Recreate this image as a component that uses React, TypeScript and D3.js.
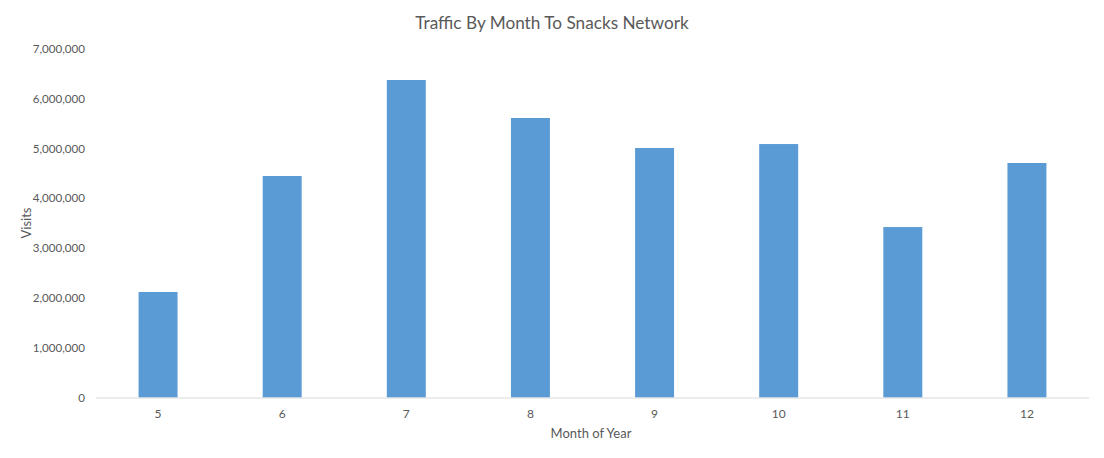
import React from "react";
import * as d3 from "d3";

const months = ["5", "6", "7", "8", "9", "10", "11", "12"];
const visits = [2119000, 4449000, 6377000, 5614000, 5011000, 5091000, 3424000, 4710000];
const yTicks = [0, 1000000, 2000000, 3000000, 4000000, 5000000, 6000000, 7000000];

const W = 1104;
const H = 458;
const FONT = "Lato, 'Open Sans', sans-serif";

export default function App() {
  const x = d3.scaleBand<string>().domain(months).range([96, 1089]).paddingInner(0.686).paddingOuter(0.343);
  const y = d3.scaleLinear().domain([0, 7000000]).range([397.5, 49]);
  const fmt = d3.format(",");
  return (
    <svg width={W} height={H} style={{ position: "absolute", left: 0, top: 0, background: "#fff" }} fontFamily={FONT}>
      <text x={552} y={29} textAnchor="middle" fontSize={17.2} fill="#595959">Traffic By Month To Snacks Network</text>
      {yTicks.map((t) => (
        <text key={t} x={85} y={y(t)} dy="0.35em" textAnchor="end" fontSize={11.6} fill="#595959">{fmt(t)}</text>
      ))}
      {months.map((m, i) => (
        <rect key={m} x={x(m)} y={y(visits[i])} width={x.bandwidth()} height={y(0) - y(visits[i])} fill="#5B9BD5" />
      ))}
      <line x1={96} x2={1089} y1={398} y2={398} stroke="#D9D9D9" strokeWidth={1} />
      {months.map((m) => (
        <text key={m} x={(x(m) as number) + x.bandwidth() / 2} y={418} textAnchor="middle" fontSize={12} fill="#595959">{m}</text>
      ))}
      <text x={591} y={438} textAnchor="middle" fontSize={13} fill="#595959">Month of Year</text>
      <text transform="translate(31,223) rotate(-90)" textAnchor="middle" fontSize={13} fill="#595959">Visits</text>
    </svg>
  );
}
